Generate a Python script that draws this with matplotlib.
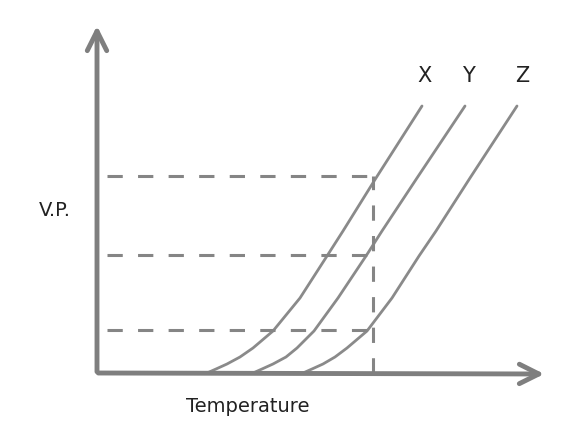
import matplotlib
matplotlib.use("Agg")
import matplotlib.pyplot as plt

# Schematic data (temperature units, vapour-pressure units; origin at axes corner)
vp_levels = [0, 4, 9, 16, 25, 42, 75, 117, 142, 195, 267]
temp_x = [110, 119, 130, 143, 156, 176, 203, 230, 246, 279, 325]
temp_y = [156, 165, 176, 189, 200, 217, 241, 269, 285, 320, 368]
temp_z = [206, 215, 226, 238, 250, 270, 295, 322, 339, 373, 420]
curve_labels = ["X", "Y", "Z"]
label_pos = [(327, 297), (371, 297), (425, 297)]
dash_levels = [197, 118, 43]
dash_temp = 276

fig = plt.figure(figsize=(5.67, 4.34), dpi=100)
ax = fig.add_axes([0, 0, 1, 1])
ax.set_xlim(-97, 470)
ax.set_ylim(-61, 373)
ax.axis("off")

gray = "#7f7f7f"
# axes arrows
ax.annotate("", xy=(0, 350), xytext=(0, -1.5),
            arrowprops=dict(arrowstyle="->,head_length=1.4,head_width=0.7", color=gray, lw=3.5))
ax.annotate("", xy=(450, -1), xytext=(-1.5, 0),
            arrowprops=dict(arrowstyle="->,head_length=1.4,head_width=0.7", color=gray, lw=3.5))

for t in (temp_x, temp_y, temp_z):
    ax.plot(t, vp_levels, color="#8a8a8a", lw=2.0, solid_capstyle="round",
            solid_joinstyle="round")

for lvl in dash_levels:
    ax.plot([10, dash_temp], [lvl, lvl], color="#858585", lw=2.2, dashes=(5, 5))
ax.plot([dash_temp, dash_temp], [0, dash_levels[0]], color="#858585", lw=2.2, dashes=(5, 5))

for lab, (x, y) in zip(curve_labels, label_pos):
    ax.text(x, y, lab, fontsize=15, color="#222222", ha="center", va="center",
            family="DejaVu Sans")

ax.text(-42, 163, "V.P.", fontsize=14, color="#222222", ha="center", va="center")
ax.text(151, -34, "Temperature", fontsize=14, color="#222222", ha="center", va="center")

fig.savefig("out.png", dpi=100)
